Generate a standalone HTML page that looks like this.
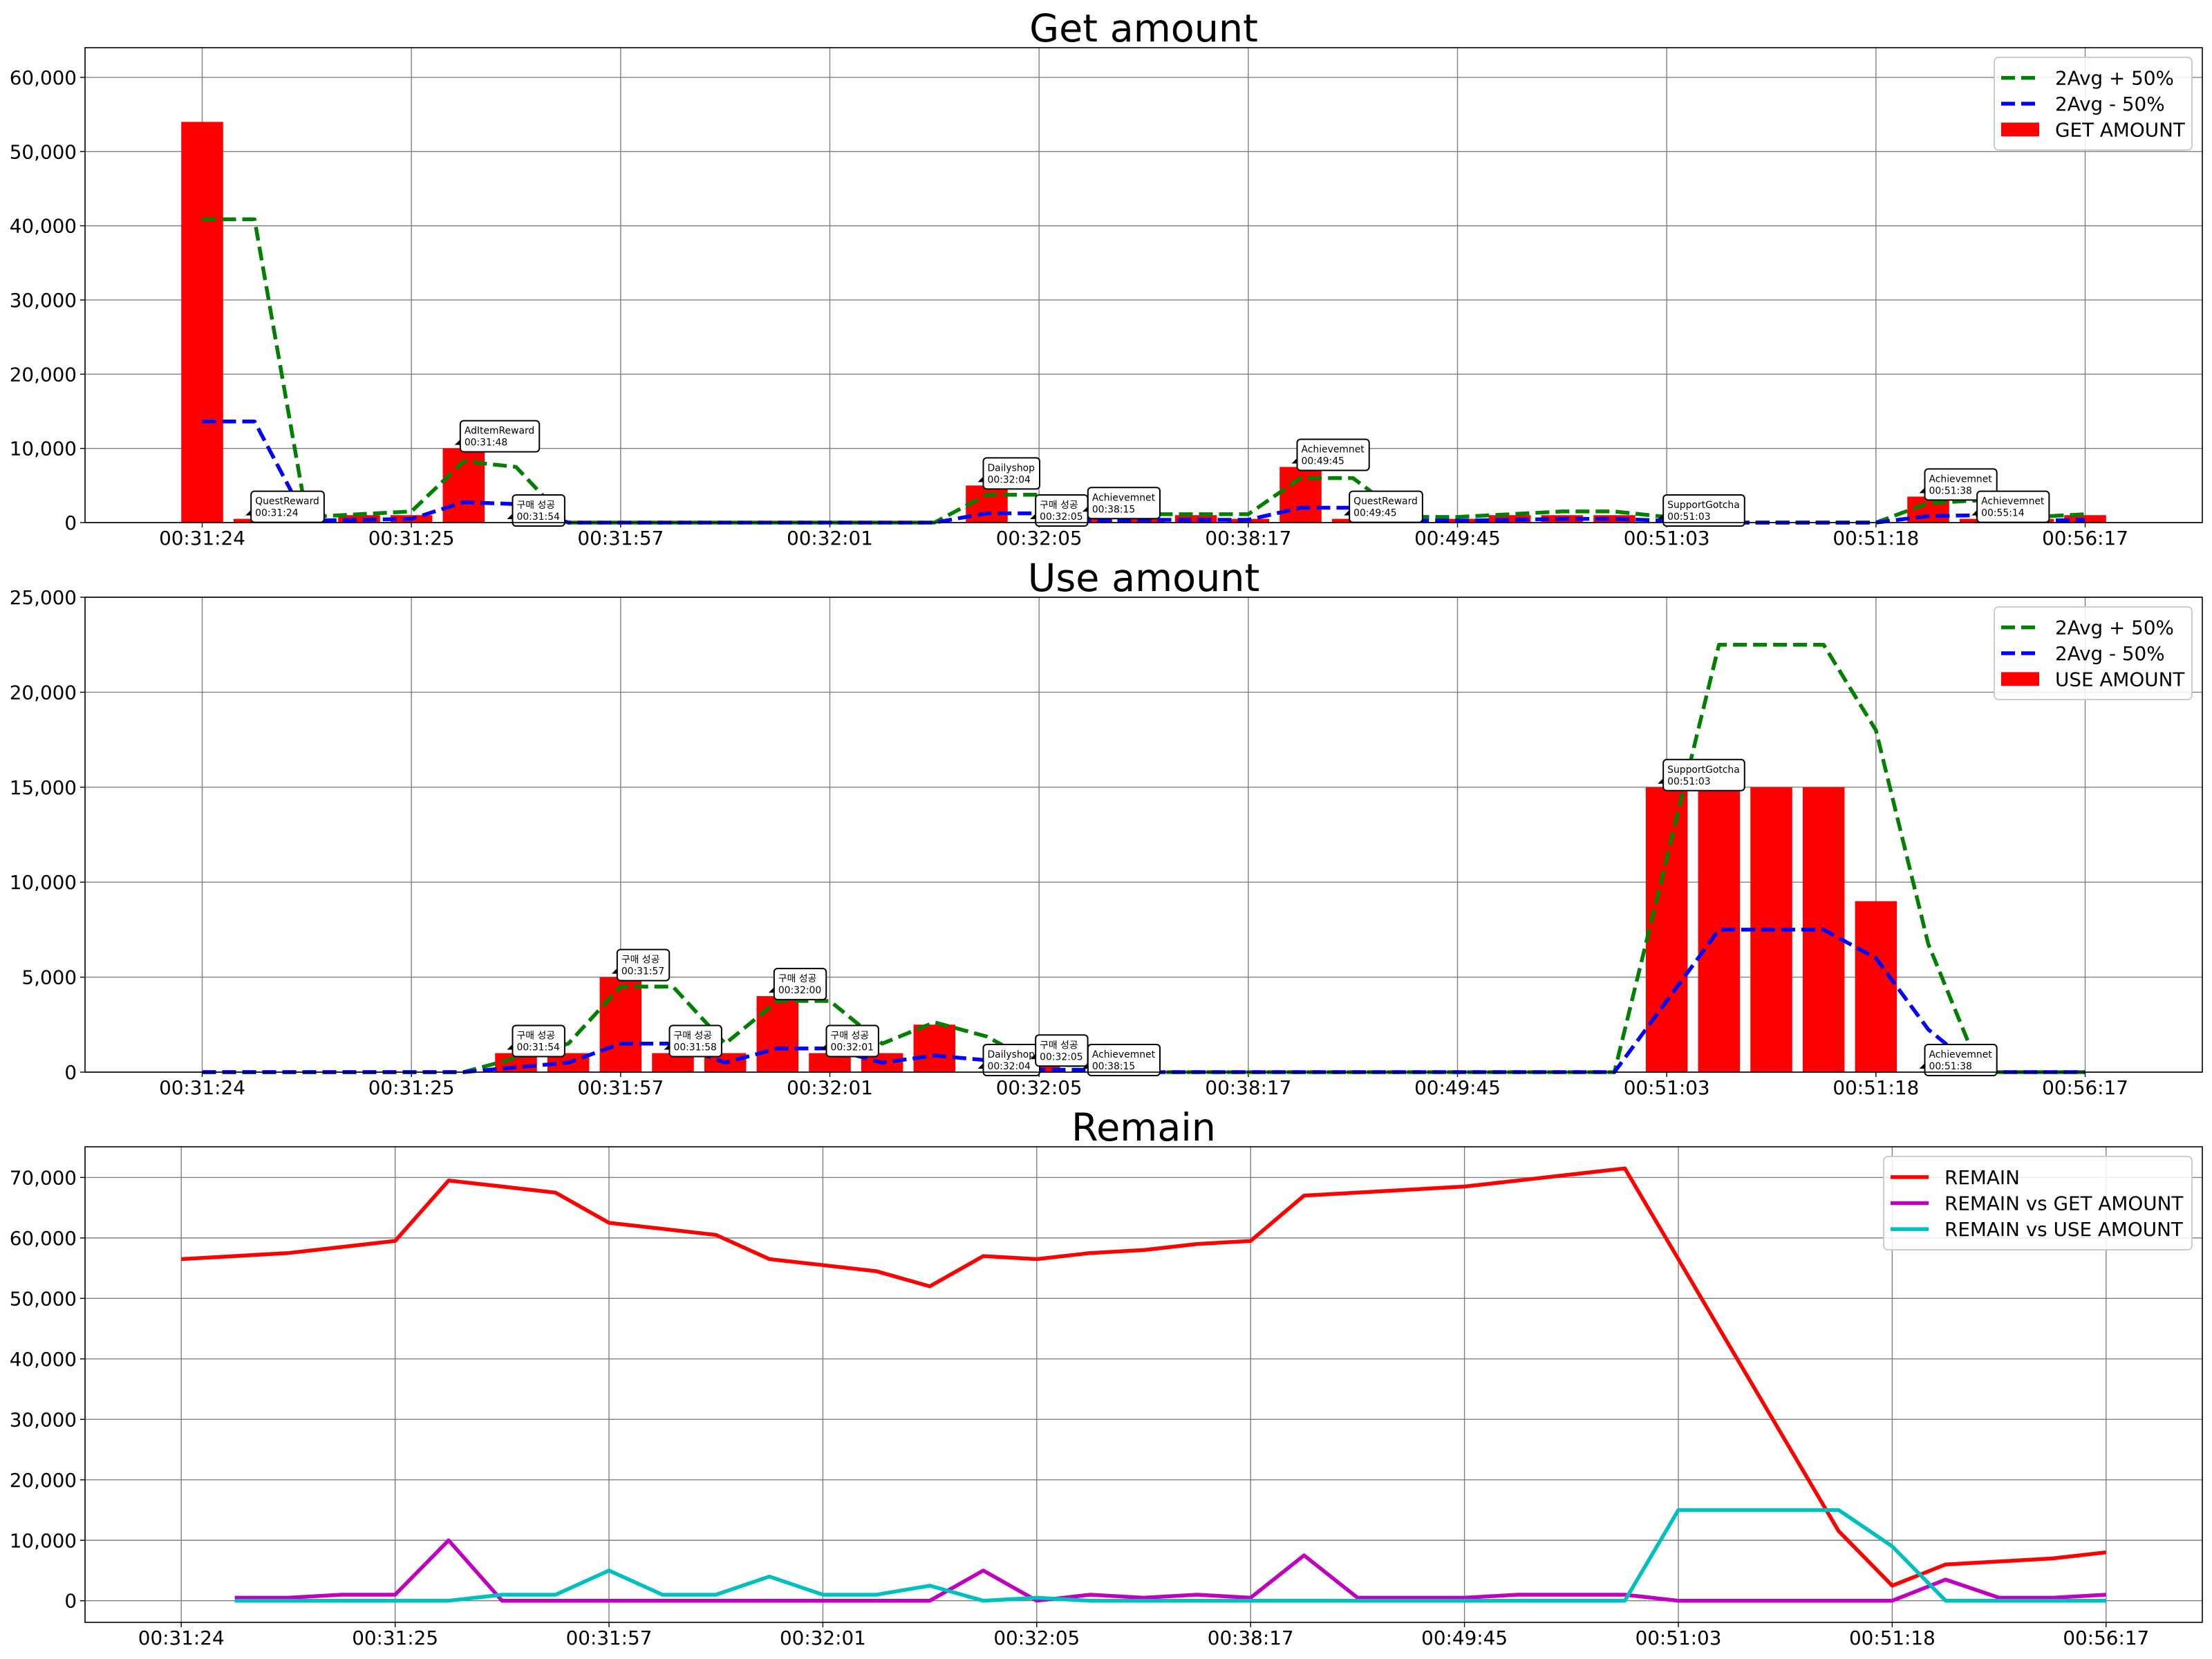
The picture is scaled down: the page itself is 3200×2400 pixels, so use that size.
<!DOCTYPE html>
<html><head><meta charset="utf-8">
<style>
html,body{margin:0;padding:0;background:#fff;}
svg{display:block;font-family:"DejaVu Sans","Liberation Sans","Noto Sans CJK KR",sans-serif;}
</style></head>
<body>
<svg id="chart" width="3200" height="2400" viewBox="0 0 3200 2400" xmlns="http://www.w3.org/2000/svg"></svg>
<script>
// ---------- data ----------
const tickLabels = ["00:31:24","00:31:25","00:31:57","00:32:01","00:32:05","00:38:17","00:49:45","00:51:03","00:51:18","00:56:17"];
const getAmount = [54000,500,500,1000,1000,10000,0,0,0,0,0,0,0,0,0,5000,0,1000,500,1000,500,7500,500,500,500,1000,1000,1000,0,0,0,0,0,3500,500,500,1000];
const getUpper = [40875,40875,750,1125,1500,8250,7500,0,0,0,0,0,0,0,0,3750,3750,750,1125,1125,1125,6000,6000,750,750,1125,1500,1500,750,0,0,0,0,2625,3000,750,1125];
const getLower = [13625,13625,250,375,500,2750,2500,0,0,0,0,0,0,0,0,1250,1250,250,375,375,375,2000,2000,250,250,375,500,500,250,0,0,0,0,875,1000,250,375];
const useAmount = [0,0,0,0,0,0,1000,1000,5000,1000,1000,4000,1000,1000,2500,0,500,0,0,0,0,0,0,0,0,0,0,0,15000,15000,15000,15000,9000,0,0,0,0];
const useUpper = [0,0,0,0,0,0,750,1500,4500,4500,1500,3750,3750,1500,2625,1875,375,375,0,0,0,0,0,0,0,0,0,0,11250,22500,22500,22500,18000,6750,0,0,0];
const useLower = [0,0,0,0,0,0,250,500,1500,1500,500,1250,1250,500,875,625,125,125,0,0,0,0,0,0,0,0,0,0,3750,7500,7500,7500,6000,2250,0,0,0];
const remain = [56500,57000,57500,58500,59500,69500,68500,67500,62500,61500,60500,56500,55500,54500,52000,57000,56500,57500,58000,59000,59500,67000,67500,68000,68500,69500,70500,71500,56500,41500,26500,11500,2500,6000,6500,7000,8000];
const remainGet = [null,500,500,1000,1000,10000,0,0,0,0,0,0,0,0,0,5000,0,1000,500,1000,500,7500,500,500,500,1000,1000,1000,0,0,0,0,0,3500,500,500,1000];
const remainUse = [null,0,0,0,0,0,1000,1000,5000,1000,1000,4000,1000,1000,2500,0,500,0,0,0,0,0,0,0,0,0,0,0,15000,15000,15000,15000,9000,0,0,0,0];
const getNotes = [[1,"QuestReward","00:31:24"],[5,"AdItemReward","00:31:48"],[6,"구매 성공","00:31:54"],[15,"Dailyshop","00:32:04"],[16,"구매 성공","00:32:05"],[17,"Achievemnet","00:38:15"],[21,"Achievemnet","00:49:45"],[22,"QuestReward","00:49:45"],[28,"SupportGotcha","00:51:03"],[33,"Achievemnet","00:51:38"],[34,"Achievemnet","00:55:14"]];
const useNotes = [[6,"구매 성공","00:31:54"],[8,"구매 성공","00:31:57"],[9,"구매 성공","00:31:58"],[11,"구매 성공","00:32:00"],[12,"구매 성공","00:32:01"],[15,"Dailyshop","00:32:04"],[16,"구매 성공","00:32:05"],[17,"Achievemnet","00:38:15"],[28,"SupportGotcha","00:51:03"],[33,"Achievemnet","00:51:38"]];
const getTicks = [0,10000,20000,30000,40000,50000,60000];
const useTicks = [0,5000,10000,15000,20000,25000];
const remainTicks = [0,10000,20000,30000,40000,50000,60000,70000];

// ---------- helpers ----------
const NS="http://www.w3.org/2000/svg";
const svg=document.getElementById('chart');
function mk(tag,attrs,parent){const e=document.createElementNS(NS,tag);for(const k in attrs)e.setAttribute(k,attrs[k]);(parent||svg).appendChild(e);return e;}
function fmt(v){return v.toLocaleString('en-US');}
const AX_L=123, AX_R=3186;

function makeAxes(name,top,bottom,xmin,xmax,ymin,ymax,yticks,title){
  const g=mk('g',{});
  
  
  const xs=i=>AX_L+(i-xmin)/(xmax-xmin)*(AX_R-AX_L);
  const ys=v=>bottom-(v-ymin)/(ymax-ymin)*(bottom-top);
  const grid=mk('g',{},g);
  
  
  tickLabels.forEach((t,k)=>{
    const x=xs(k*4);
    mk('line',{x1:x,x2:x,y1:top,y2:bottom,stroke:'#808080','stroke-width':1.4},grid);
    mk('line',{x1:x,x2:x,y1:bottom,y2:bottom+7,stroke:'#000','stroke-width':1.4},g);
    const tl=mk('text',{x:x,y:bottom+32,'font-size':27.8,'text-anchor':'middle',fill:'#000'},g);
    
    
    tl.textContent=t;
  });
  yticks.forEach(v=>{
    const y=ys(v);
    mk('line',{x1:AX_L,x2:AX_R,y1:y,y2:y,stroke:'#808080','stroke-width':1.4},grid);
    mk('line',{x1:AX_L-7,x2:AX_L,y1:y,y2:y,stroke:'#000','stroke-width':1.4},g);
    const tl=mk('text',{x:AX_L-12,y:y+10,'font-size':27.8,'text-anchor':'end',fill:'#000'},g);
    
    
    tl.textContent=fmt(v);
  });
  const tt=mk('text',{x:(AX_L+AX_R)/2,y:top-9,'font-size':55.5,'text-anchor':'middle',fill:'#000'},g);
  
  
  tt.textContent=title;
  const layer=mk('g',{},g);
  return {g,xs,ys,top,bottom,layer};
}
function frame(ax,name){
  const r=mk('rect',{x:AX_L,y:ax.top,width:AX_R-AX_L,height:ax.bottom-ax.top,fill:'none',stroke:'#000','stroke-width':1.6},ax.g);
  
  
}
function bars(ax,vals,name){
  const w=(ax.xs(1)-ax.xs(0))*0.8;
  vals.forEach((v,i)=>{
    if(!v)return;
    const r=mk('rect',{x:ax.xs(i)-w/2,y:ax.ys(v),width:w,height:ax.ys(0)-ax.ys(v),fill:'#ff0000'},ax.layer);
    
    
  });
}
function line(ax,vals,color,dashed,name){
  let d='';let started=false;
  vals.forEach((v,i)=>{if(v===null)return;d+=(started?'L':'M')+ax.xs(i).toFixed(1)+','+ax.ys(v).toFixed(1);started=true;});
  const p=mk('path',{d:d,fill:'none',stroke:color,'stroke-width':5.5,'stroke-linejoin':'round'},ax.layer);
  if(dashed)p.setAttribute('stroke-dasharray','20 9');
  
  
}
function notes(ax,list,vals,name){
  list.forEach(n=>{
    const i=n[0];
    const tx=ax.xs(i)-13, ty=ax.ys(vals[i]||0)-5;
    const g=mk('g',{},ax.layer);
    
    
    mk('path',{d:`M${tx},${ty} l10,-10 l4,10 z`,fill:'#000'},g);
    const bx=tx+8, by=ty-35;
    const box=mk('rect',{x:bx,y:by,width:100,height:45,rx:5,fill:'#fff',stroke:'#000','stroke-width':2},g);
    const t1=mk('text',{x:bx+6,y:by+19,'font-size':13.9,fill:'#000'},g);t1.textContent=n[1];
    const t2=mk('text',{x:bx+6,y:by+36,'font-size':13.9,fill:'#000'},g);t2.textContent=n[2];
    let w=Math.max(t1.getComputedTextLength(),t2.getComputedTextLength());
    box.setAttribute('width',(w+13).toFixed(1));
  });
}
function legend(ax,x1,y1,x2,y2,items,name){
  const g=mk('g',{},ax.g);
  
  
  mk('rect',{x:x1,y:y1,width:x2-x1,height:y2-y1,rx:6,fill:'#fff','fill-opacity':0.85,stroke:'#cccccc','stroke-width':2},g);
  const step=(y2-y1-22)/items.length;
  items.forEach((it,k)=>{
    const cy=y1+11+step*(k+0.5);
    const e=mk('g',{},g);
    
    
    if(it.type==='bar') mk('rect',{x:x1+10,y:cy-10,width:55,height:20,fill:it.color},e);
    else {const l=mk('line',{x1:x1+10,x2:x1+65,y1:cy,y2:cy,stroke:it.color,'stroke-width':5.5},e); if(it.type==='dash')l.setAttribute('stroke-dasharray','20 9');}
    const t=mk('text',{x:x1+88,y:cy+10,'font-size':27.8,fill:'#000'},e);t.textContent=it.label;
  });
}

// ---------- Get amount ----------
const a1=makeAxes('get-amount',69,756,-2.24,38.24,0,64000,getTicks,'Get amount');
bars(a1,getAmount,'get-amount');
line(a1,getUpper,'#008000',true,'get-upper-line');
line(a1,getLower,'#0000ff',true,'get-lower-line');
notes(a1,getNotes,getAmount,'get');
frame(a1,'get-amount');
legend(a1,2885,83,3171,217,[{type:'dash',color:'#008000',label:'2Avg + 50%'},{type:'dash',color:'#0000ff',label:'2Avg - 50%'},{type:'bar',color:'#ff0000',label:'GET AMOUNT'}],'get');

// ---------- Use amount ----------
const a2=makeAxes('use-amount',864,1551,-2.24,38.24,0,25000,useTicks,'Use amount');
bars(a2,useAmount,'use-amount');
line(a2,useUpper,'#008000',true,'use-upper-line');
line(a2,useLower,'#0000ff',true,'use-lower-line');
notes(a2,useNotes,useAmount,'use');
frame(a2,'use-amount');
legend(a2,2885,878,3171,1012,[{type:'dash',color:'#008000',label:'2Avg + 50%'},{type:'dash',color:'#0000ff',label:'2Avg - 50%'},{type:'bar',color:'#ff0000',label:'USE AMOUNT'}],'use');

// ---------- Remain ----------
const a3=makeAxes('remain',1659,2347,-1.8,37.8,-3575,75075,remainTicks,'Remain');
line(a3,remain,'#ff0000',false,'remain-line');
line(a3,remainGet,'#bf00bf',false,'remain-vs-get-line');
line(a3,remainUse,'#00bfbf',false,'remain-vs-use-line');
frame(a3,'remain');
legend(a3,2725,1673,3171,1808,[{type:'line',color:'#ff0000',label:'REMAIN'},{type:'line',color:'#bf00bf',label:'REMAIN vs GET AMOUNT'},{type:'line',color:'#00bfbf',label:'REMAIN vs USE AMOUNT'}],'remain');
</script>
</body></html>
